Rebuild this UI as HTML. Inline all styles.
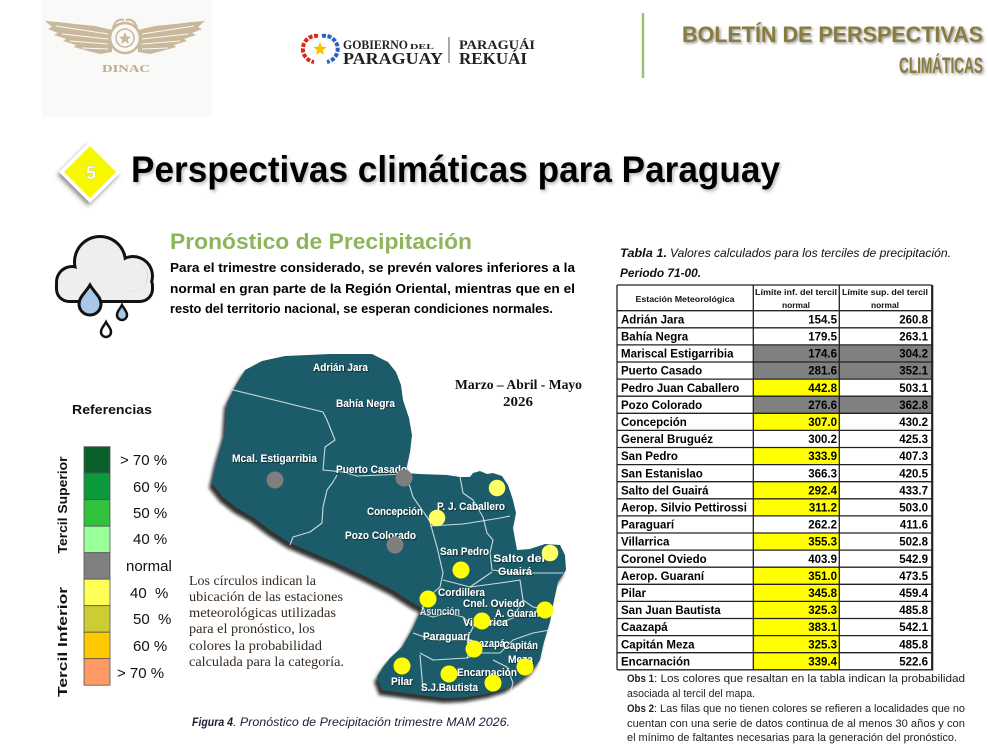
<!DOCTYPE html>
<html><head><meta charset="utf-8"><style>
html,body{margin:0;padding:0;background:#fff;overflow:hidden}
svg{display:block}
text{font-family:"Liberation Sans",Arial,sans-serif}
.serif{font-family:"Liberation Serif","Times New Roman",serif}
.ml{font-family:"Liberation Sans",sans-serif;font-weight:bold;font-size:11px;fill:#fff}
.tn{font-weight:bold;font-size:11.5px;fill:#000}
.num{font-weight:bold;font-size:11.5px;fill:#000;text-anchor:end}
.lg{font-size:15px;fill:#111}
.ob{font-size:11px;fill:#222}
.lt{font-size:13.5px;fill:#35291f}
</style></head><body>
<svg width="988" height="753" viewBox="0 0 988 753" xmlns="http://www.w3.org/2000/svg">
<defs>
<filter id="sh1" x="-5%" y="-30%" width="110%" height="170%"><feDropShadow dx="1.5" dy="1.5" stdDeviation="1.2" flood-color="#555" flood-opacity="0.6"/></filter>
<filter id="sh2" x="-5%" y="-30%" width="110%" height="170%"><feDropShadow dx="1.5" dy="2" stdDeviation="1.5" flood-color="#888" flood-opacity="0.6"/></filter>
<filter id="mapsh" x="-10%" y="-10%" width="120%" height="125%"><feDropShadow dx="-3" dy="5" stdDeviation="1.5" flood-color="#111" flood-opacity="0.85"/></filter>
<filter id="lbl" x="-10%" y="-30%" width="120%" height="160%"><feDropShadow dx="0.8" dy="0.8" stdDeviation="0.4" flood-color="#000" flood-opacity="0.7"/></filter>
<filter id="dsh" x="-30%" y="-30%" width="160%" height="160%"><feDropShadow dx="-2" dy="3" stdDeviation="2" flood-color="#666" flood-opacity="0.7"/></filter>
</defs>

<!-- DINAC logo -->
<rect x="42" y="0" width="170" height="117" fill="#f9f9f8"/>
<polygon points="112,30 95,26 75,24 58,22 45,21 52,27 48,29 58,33 54,35 66,39 63,41 76,45 74,47 88,51 100,54 112,52" fill="#c9b899"/>
<polygon points="138,30 155,26 175,24 192,22 205,21 198,27 202,29 192,33 196,35 184,39 187,41 174,45 176,47 162,51 150,54 138,52" fill="#c9b899"/>
<g stroke="#f9f9f8" stroke-width="1" fill="none">
<path d="M108,34 L56,26 M108,39 L62,34 M108,44 L70,41 M108,49 L82,48"/>
<path d="M142,34 L194,26 M142,39 L188,34 M142,44 L180,41 M142,49 L168,48"/>
</g>
<circle cx="125" cy="38" r="15" fill="#f9f9f8" stroke="#c9b899" stroke-width="2.5"/>
<circle cx="125" cy="38" r="9" fill="none" stroke="#c9b899" stroke-width="1.5"/>
<polygon points="125,32 126.8,36.5 131,36.7 127.7,39.5 128.8,44 125,41.4 121.2,44 122.3,39.5 119,36.7 123.2,36.5" fill="#c9b899"/>
<path d="M113,28 Q116,18 124,20 M137,28 Q134,18 126,20" stroke="#c9b899" stroke-width="2" fill="none"/>
<text x="102" y="72" class="serif" font-size="11" font-weight="bold" fill="#bcaa8a" textLength="48" lengthAdjust="spacingAndGlyphs">DINAC</text>

<!-- Gobierno logo -->
<path d="M318,36 A13,13 0 0 0 314,62" stroke="#d52b1e" stroke-width="4" fill="none" stroke-dasharray="4 1.5"/>
<path d="M322,36 A13,13 0 0 1 327,62" stroke="#2a62c4" stroke-width="4" fill="none" stroke-dasharray="4 1.5"/>
<polygon points="320,42 321.8,46.8 326.8,47 322.9,50.1 324.2,55 320,52.2 315.8,55 317.1,50.1 313.2,47 318.2,46.8" fill="#f5c400"/>
<text x="343" y="49" class="serif" font-size="12.5" font-weight="bold" fill="#222" textLength="65" lengthAdjust="spacingAndGlyphs">GOBIERNO</text>
<text x="410" y="49" class="serif" font-size="7" font-weight="bold" fill="#222" textLength="24" lengthAdjust="spacingAndGlyphs">DEL</text>
<text x="343" y="64" class="serif" font-size="17" font-weight="bold" fill="#222" textLength="100" lengthAdjust="spacingAndGlyphs">PARAGUAY</text>
<line x1="449" y1="37" x2="449" y2="63" stroke="#555" stroke-width="1"/>
<text x="459" y="49" class="serif" font-size="12.5" font-weight="bold" fill="#222" textLength="76" lengthAdjust="spacingAndGlyphs">PARAGUÁI</text>
<text x="459" y="64" class="serif" font-size="17" font-weight="bold" fill="#222" textLength="68" lengthAdjust="spacingAndGlyphs">REKUÁI</text>

<!-- Header right -->
<line x1="643" y1="13" x2="643" y2="78" stroke="#9dc26b" stroke-width="2.5"/>
<g filter="url(#sh1)">
<text x="983" y="42" text-anchor="end" font-size="22" font-weight="bold" fill="#8a7b3c" textLength="301" lengthAdjust="spacingAndGlyphs">BOLETÍN DE PERSPECTIVAS</text>
<text x="983" y="73" text-anchor="end" font-size="22" font-weight="bold" fill="#8a7b3c" textLength="84" lengthAdjust="spacingAndGlyphs">CLIMÁTICAS</text>
</g>

<!-- Title -->
<polygon points="90,141 121,172 90,203 59,172" fill="#fff" filter="url(#dsh)"/>
<polygon points="90,146 116,172 90,198 64,172" fill="#f7f700"/>
<text x="91" y="179" text-anchor="middle" font-size="18" font-weight="bold" fill="#fff" stroke="#bbb" stroke-width="0.4">5</text>
<text x="131" y="182" font-size="37" font-weight="bold" fill="#000" textLength="649" lengthAdjust="spacingAndGlyphs" filter="url(#sh2)">Perspectivas climáticas para Paraguay</text>

<!-- Cloud icon -->
<g>
<g fill="#111">
<circle cx="72" cy="282" r="17"/><circle cx="100" cy="262" r="27"/><circle cx="133" cy="276" r="21"/>
<rect x="55" y="272" width="99" height="31" rx="14"/>
</g>
<g fill="#eeeeee">
<circle cx="72" cy="282" r="14"/><circle cx="100" cy="262" r="24"/><circle cx="133" cy="276" r="18"/>
<rect x="58" y="275" width="93" height="25" rx="11"/>
</g>
<path d="M122,292 Q146,292 148,278 Q148,266 136,261 Q150,268 146,282 Q142,293 122,292 Z" fill="#d6d6d6"/>
<path d="M90,285 C94,292 101,297 101,304 A11,11 0 0 1 79,304 C79,297 86,292 90,285 Z" fill="#a8c8e8" stroke="#111" stroke-width="3"/>
<path d="M122,305 C124,309 127,311 127,315 A5,5 0 0 1 117,315 C117,311 120,309 122,305 Z" fill="#a8c8e8" stroke="#111" stroke-width="2.5"/>
<path d="M106,322 C108,326 111,328 111,332 A5,5 0 0 1 101,332 C101,328 104,326 106,322 Z" fill="#fff" stroke="#111" stroke-width="2.5"/>
</g>

<!-- Pronóstico -->
<text x="170" y="249" font-size="22" font-weight="bold" fill="#8db55a" textLength="302" lengthAdjust="spacingAndGlyphs">Pronóstico de Precipitación</text>
<g font-size="12.5" font-weight="bold" fill="#000">
<text x="170" y="272" textLength="405" lengthAdjust="spacingAndGlyphs">Para el trimestre considerado, se prevén valores inferiores a la</text>
<text x="170" y="293" textLength="405" lengthAdjust="spacingAndGlyphs">normal en gran parte de la Región Oriental, mientras que en el</text>
<text x="170" y="313" textLength="383" lengthAdjust="spacingAndGlyphs">resto del territorio nacional, se esperan condiciones normales.</text>
</g>

<!-- Legend -->
<text x="112" y="414" text-anchor="middle" font-size="12.5" font-weight="bold" fill="#111" textLength="80" lengthAdjust="spacingAndGlyphs">Referencias</text>
<g stroke="#555" stroke-width="0.8">
<rect x="84" y="446.7" width="26" height="26.5" fill="#0b5f2b"/>
<rect x="84" y="473.2" width="26" height="26.5" fill="#0a9a3c"/>
<rect x="84" y="499.7" width="26" height="26.5" fill="#30c23a"/>
<rect x="84" y="526.2" width="26" height="26.5" fill="#99ff99"/>
<rect x="84" y="552.7" width="26" height="26.5" fill="#808080"/>
<rect x="84" y="579.2" width="26" height="26.5" fill="#ffff55"/>
<rect x="84" y="605.7" width="26" height="26.5" fill="#cccc33"/>
<rect x="84" y="632.2" width="26" height="26.5" fill="#ffc800"/>
<rect x="84" y="658.7" width="26" height="26.5" fill="#ff9966"/>
</g>
<text class="lg" x="120" y="465">&gt; 70 %</text>
<text class="lg" x="133" y="492">60 %</text>
<text class="lg" x="133" y="518">50 %</text>
<text class="lg" x="133" y="544">40 %</text>
<text class="lg" x="126" y="571">normal</text>
<text class="lg" x="130" y="598" xml:space="preserve">40  %</text>
<text class="lg" x="133" y="624" xml:space="preserve">50  %</text>
<text class="lg" x="133" y="651">60 %</text>
<text class="lg" x="117" y="678">&gt; 70 %</text>
<text transform="translate(67,505) rotate(-90)" text-anchor="middle" font-size="13" font-weight="bold" fill="#111" textLength="97" lengthAdjust="spacingAndGlyphs">Tercil Superior</text>
<text transform="translate(67,642) rotate(-90)" text-anchor="middle" font-size="13" font-weight="bold" fill="#111" textLength="110" lengthAdjust="spacingAndGlyphs">Tercil Inferior</text>

<!-- Map -->
<polygon filter="url(#mapsh)" fill="#1f5c6a" points="245,370 262,361 285,356 330,354 372,354 388,362 396,372 401,385 403,400 409,418 412,435 410,452 407,466 405,473 420,474 447,475 460,477 470,477 473,473 480,471 487,474 493,473 502,476 508,485 513,500 516,513 513,528 517,550 530,549 545,544 560,545 565,555 566,570 558,582 553,605 550,622 544,642 540,660 533,670 520,680 507,688 490,693 467,697 447,698 420,695 397,692 382,690 377,677 383,667 390,658 402,647 413,628 418,617 422,608 413,603 393,590 367,577 337,563 313,553 290,543 270,530 253,517 237,508 223,497 212,483 217,460 225,433 227,403 236,385"/>
<g fill="none" stroke="#e8f0f2" stroke-width="1.1" stroke-opacity="0.85" stroke-linejoin="round">
<polyline points="229,389 323,412 327,420 335,440 325,447 323,470 343,472 357,476 405,474"/>
<polyline points="337,475 333,482 327,490 323,507 322,523 310,532 293,537 290,545"/>
<polyline points="405,474 410,487 413,497 427,517 430,522 433,533 437,547 440,560 443,573 440,587 433,593 422,608"/>
<polyline points="430,526 463,524 482,521 500,518 510,516"/>
<polyline points="460,477 463,493 473,500 483,517 487,533 493,540 490,553 492,570 517,573 563,573"/>
<polyline points="443,580 470,587 492,572"/>
<polyline points="470,587 500,583 520,580 523,600 533,607 553,610"/>
<polyline points="420,613 433,617 447,613 463,617 473,627 500,623 513,618 523,600"/>
<polyline points="413,633 433,640 467,640 473,627"/>
<polyline points="420,653 433,660 467,658 480,653 500,653 513,640 533,633 550,630"/>
<polyline points="493,660 507,667 513,683 510,693"/>
<polyline points="420,655 423,690"/>
<polyline points="467,640 470,650 467,658"/>
</g>
<g filter="url(#lbl)">
<text class="ml" x="313" y="371" textLength="55" lengthAdjust="spacingAndGlyphs">Adrián Jara</text>
<text class="ml" x="336" y="407" textLength="59" lengthAdjust="spacingAndGlyphs">Bahía Negra</text>
<text class="ml" x="232" y="462" textLength="85" lengthAdjust="spacingAndGlyphs">Mcal. Estigarribia</text>
<text class="ml" x="336" y="473" textLength="71" lengthAdjust="spacingAndGlyphs">Puerto Casado</text>
<text class="ml" x="367" y="515" textLength="56" lengthAdjust="spacingAndGlyphs">Concepción</text>
<text class="ml" x="437" y="510" textLength="68" lengthAdjust="spacingAndGlyphs">P. J. Caballero</text>
<text class="ml" x="345" y="539" textLength="71" lengthAdjust="spacingAndGlyphs">Pozo Colorado</text>
<text class="ml" x="440" y="555" textLength="49" lengthAdjust="spacingAndGlyphs">San Pedro</text>
<text class="ml" x="493" y="562" textLength="52" lengthAdjust="spacingAndGlyphs">Salto del</text>
<text class="ml" x="498" y="575" textLength="34" lengthAdjust="spacingAndGlyphs">Guairá</text>
<text class="ml" x="438" y="596" textLength="47" lengthAdjust="spacingAndGlyphs">Cordillera</text>
<text class="ml" x="463" y="607" textLength="62" lengthAdjust="spacingAndGlyphs">Cnel. Oviedo</text>
<text class="ml" x="420" y="615" font-size="9" fill-opacity="0.8" textLength="40" lengthAdjust="spacingAndGlyphs">Asunción</text>
<text class="ml" x="495" y="617" textLength="47" lengthAdjust="spacingAndGlyphs">A. Guaraní</text>
<text class="ml" x="463" y="626" textLength="45" lengthAdjust="spacingAndGlyphs">Villarrica</text>
<text class="ml" x="423" y="640" textLength="47" lengthAdjust="spacingAndGlyphs">Paraguarí</text>
<text class="ml" x="467" y="647" textLength="38" lengthAdjust="spacingAndGlyphs">Caazapá</text>
<text class="ml" x="503" y="649" textLength="35" lengthAdjust="spacingAndGlyphs">Capitán</text>
<text class="ml" x="508" y="663" textLength="25" lengthAdjust="spacingAndGlyphs">Meza</text>
<text class="ml" x="457" y="676" textLength="60" lengthAdjust="spacingAndGlyphs">Encarnación</text>
<text class="ml" x="391" y="685" textLength="22" lengthAdjust="spacingAndGlyphs">Pilar</text>
<text class="ml" x="421" y="691" textLength="57" lengthAdjust="spacingAndGlyphs">S.J.Bautista</text>
</g>
<g fill="#7f7f7f">
<circle cx="275" cy="480" r="8.5"/><circle cx="404" cy="478" r="8.5"/><circle cx="395" cy="545" r="8.5"/>
</g>
<g fill="#ffff66">
<circle cx="497" cy="488" r="8.3"/><circle cx="437" cy="518" r="8.3"/><circle cx="550" cy="553" r="8.3"/>
</g>
<g fill="#ffff00">
<circle cx="461" cy="570" r="8.5"/><circle cx="428" cy="599" r="8.5"/><circle cx="545" cy="610" r="8.5"/>
<circle cx="482" cy="621" r="8.5"/><circle cx="474" cy="649" r="8.5"/><circle cx="402" cy="666" r="8.5"/>
<circle cx="449" cy="674" r="8.5"/><circle cx="493" cy="683" r="8.5"/><circle cx="525" cy="667" r="8.5"/>
</g>
<text x="455" y="389" class="serif" font-size="13.5" font-weight="bold" fill="#111" textLength="127" lengthAdjust="spacingAndGlyphs">Marzo – Abril - Mayo</text>
<text x="518" y="406" class="serif" text-anchor="middle" font-size="13.5" font-weight="bold" fill="#111" textLength="30" lengthAdjust="spacingAndGlyphs">2026</text>

<!-- Left explanatory text -->
<g class="serif">
<text class="lt serif" x="189" y="585" textLength="127" lengthAdjust="spacingAndGlyphs">Los círculos indican la</text>
<text class="lt serif" x="189" y="601" textLength="154" lengthAdjust="spacingAndGlyphs">ubicación de las estaciones</text>
<text class="lt serif" x="189" y="617" textLength="147" lengthAdjust="spacingAndGlyphs">meteorológicas utilizadas</text>
<text class="lt serif" x="189" y="633" textLength="126" lengthAdjust="spacingAndGlyphs">para el pronóstico, los</text>
<text class="lt serif" x="189" y="650" textLength="133" lengthAdjust="spacingAndGlyphs">colores la probabilidad</text>
<text class="lt serif" x="189" y="666" textLength="155" lengthAdjust="spacingAndGlyphs">calculada para la categoría.</text>
</g>

<!-- Figure caption -->
<text x="192" y="726" font-size="11.5" font-weight="bold" font-style="italic" fill="#1c1c3a" textLength="41" lengthAdjust="spacingAndGlyphs">Figura 4</text>
<text x="233" y="726" font-size="11.5" font-style="italic" fill="#1c1c3a" textLength="277" lengthAdjust="spacingAndGlyphs">. Pronóstico de Precipitación trimestre MAM 2026.</text>

<!-- Table caption -->
<text x="620" y="257" font-size="12" font-weight="bold" font-style="italic" fill="#111" textLength="47" lengthAdjust="spacingAndGlyphs">Tabla 1.</text>
<text x="670" y="257" font-size="12" font-style="italic" fill="#111" textLength="281" lengthAdjust="spacingAndGlyphs">Valores calculados para los terciles de precipitación.</text>
<text x="620" y="277" font-size="12" font-weight="bold" font-style="italic" fill="#111" textLength="81" lengthAdjust="spacingAndGlyphs">Periodo 71-00.</text>

<!-- Table -->
<g>
<rect x="617" y="285" width="314.7" height="384.8" fill="#fff"/>
<rect x="753.3" y="344.9" width="178.4" height="34.2" fill="#808080"/>
<rect x="753.3" y="396.2" width="178.4" height="17.1" fill="#808080"/>
<g fill="#ffff00">
<rect x="753.3" y="379.1" width="86" height="17.1"/>
<rect x="753.3" y="413.3" width="86" height="17.1"/>
<rect x="753.3" y="447.5" width="86" height="17.1"/>
<rect x="753.3" y="481.7" width="86" height="34.2"/>
<rect x="753.3" y="533.0" width="86" height="17.1"/>
<rect x="753.3" y="567.2" width="86" height="102.6"/>
</g>
<g stroke="#222" stroke-width="1.3">
<line x1="617" y1="285" x2="931.7" y2="285"/>
<line x1="617" y1="310.7" x2="931.7" y2="310.7"/>
<line x1="617" y1="327.8" x2="931.7" y2="327.8"/>
<line x1="617" y1="344.9" x2="931.7" y2="344.9"/>
<line x1="617" y1="362.0" x2="931.7" y2="362.0"/>
<line x1="617" y1="379.1" x2="931.7" y2="379.1"/>
<line x1="617" y1="396.2" x2="931.7" y2="396.2"/>
<line x1="617" y1="413.3" x2="931.7" y2="413.3"/>
<line x1="617" y1="430.4" x2="931.7" y2="430.4"/>
<line x1="617" y1="447.5" x2="931.7" y2="447.5"/>
<line x1="617" y1="464.6" x2="931.7" y2="464.6"/>
<line x1="617" y1="481.7" x2="931.7" y2="481.7"/>
<line x1="617" y1="498.8" x2="931.7" y2="498.8"/>
<line x1="617" y1="515.9" x2="931.7" y2="515.9"/>
<line x1="617" y1="533.0" x2="931.7" y2="533.0"/>
<line x1="617" y1="550.1" x2="931.7" y2="550.1"/>
<line x1="617" y1="567.2" x2="931.7" y2="567.2"/>
<line x1="617" y1="584.3" x2="931.7" y2="584.3"/>
<line x1="617" y1="601.4" x2="931.7" y2="601.4"/>
<line x1="617" y1="618.5" x2="931.7" y2="618.5"/>
<line x1="617" y1="635.6" x2="931.7" y2="635.6"/>
<line x1="617" y1="652.7" x2="931.7" y2="652.7"/>
<line x1="617" y1="669.8" x2="931.7" y2="669.8"/>
<line x1="617" y1="285" x2="617" y2="669.8"/>
<line x1="753.3" y1="285" x2="753.3" y2="669.8"/>
<line x1="839.3" y1="285" x2="839.3" y2="669.8"/>
</g>
<line x1="932.2" y1="285" x2="932.2" y2="670.5" stroke="#222" stroke-width="2.2"/>
<text x="685" y="302" text-anchor="middle" font-size="8" font-weight="bold" fill="#111" textLength="99" lengthAdjust="spacingAndGlyphs">Estación Meteorológica</text>
<text x="796" y="295" text-anchor="middle" font-size="8" font-weight="bold" fill="#111" textLength="82" lengthAdjust="spacingAndGlyphs">Límite inf. del tercil</text>
<text x="796" y="308" text-anchor="middle" font-size="8" font-weight="bold" fill="#111" textLength="28" lengthAdjust="spacingAndGlyphs">normal</text>
<text x="885" y="295" text-anchor="middle" font-size="8" font-weight="bold" fill="#111" textLength="86" lengthAdjust="spacingAndGlyphs">Límite sup. del tercil</text>
<text x="885" y="308" text-anchor="middle" font-size="8" font-weight="bold" fill="#111" textLength="28" lengthAdjust="spacingAndGlyphs">normal</text>
<text class="tn" x="621" y="323.4">Adrián Jara</text><text class="num" x="837" y="323.4">154.5</text><text class="num" x="928" y="323.4">260.8</text>
<text class="tn" x="621" y="340.5">Bahía Negra</text><text class="num" x="837" y="340.5">179.5</text><text class="num" x="928" y="340.5">263.1</text>
<text class="tn" x="621" y="357.6">Mariscal Estigarribia</text><text class="num" x="837" y="357.6">174.6</text><text class="num" x="928" y="357.6">304.2</text>
<text class="tn" x="621" y="374.7">Puerto Casado</text><text class="num" x="837" y="374.7">281.6</text><text class="num" x="928" y="374.7">352.1</text>
<text class="tn" x="621" y="391.8">Pedro Juan Caballero</text><text class="num" x="837" y="391.8">442.8</text><text class="num" x="928" y="391.8">503.1</text>
<text class="tn" x="621" y="408.9">Pozo Colorado</text><text class="num" x="837" y="408.9">276.6</text><text class="num" x="928" y="408.9">362.8</text>
<text class="tn" x="621" y="426.0">Concepción</text><text class="num" x="837" y="426.0">307.0</text><text class="num" x="928" y="426.0">430.2</text>
<text class="tn" x="621" y="443.1">General Bruguéz</text><text class="num" x="837" y="443.1">300.2</text><text class="num" x="928" y="443.1">425.3</text>
<text class="tn" x="621" y="460.2">San Pedro</text><text class="num" x="837" y="460.2">333.9</text><text class="num" x="928" y="460.2">407.3</text>
<text class="tn" x="621" y="477.3">San Estanislao</text><text class="num" x="837" y="477.3">366.3</text><text class="num" x="928" y="477.3">420.5</text>
<text class="tn" x="621" y="494.4">Salto del Guairá</text><text class="num" x="837" y="494.4">292.4</text><text class="num" x="928" y="494.4">433.7</text>
<text class="tn" x="621" y="511.5">Aerop. Silvio Pettirossi</text><text class="num" x="837" y="511.5">311.2</text><text class="num" x="928" y="511.5">503.0</text>
<text class="tn" x="621" y="528.6">Paraguarí</text><text class="num" x="837" y="528.6">262.2</text><text class="num" x="928" y="528.6">411.6</text>
<text class="tn" x="621" y="545.7">Villarrica</text><text class="num" x="837" y="545.7">355.3</text><text class="num" x="928" y="545.7">502.8</text>
<text class="tn" x="621" y="562.8">Coronel Oviedo</text><text class="num" x="837" y="562.8">403.9</text><text class="num" x="928" y="562.8">542.9</text>
<text class="tn" x="621" y="579.9">Aerop. Guaraní</text><text class="num" x="837" y="579.9">351.0</text><text class="num" x="928" y="579.9">473.5</text>
<text class="tn" x="621" y="597.0">Pilar</text><text class="num" x="837" y="597.0">345.8</text><text class="num" x="928" y="597.0">459.4</text>
<text class="tn" x="621" y="614.1">San Juan Bautista</text><text class="num" x="837" y="614.1">325.3</text><text class="num" x="928" y="614.1">485.8</text>
<text class="tn" x="621" y="631.2">Caazapá</text><text class="num" x="837" y="631.2">383.1</text><text class="num" x="928" y="631.2">542.1</text>
<text class="tn" x="621" y="648.3">Capitán Meza</text><text class="num" x="837" y="648.3">325.3</text><text class="num" x="928" y="648.3">485.8</text>
<text class="tn" x="621" y="665.4">Encarnación</text><text class="num" x="837" y="665.4">339.4</text><text class="num" x="928" y="665.4">522.6</text>
</g>

<!-- Obs -->
<text class="ob" x="627" y="682" font-weight="bold" textLength="27" lengthAdjust="spacingAndGlyphs">Obs 1</text>
<text class="ob" x="654" y="682" textLength="311" lengthAdjust="spacingAndGlyphs">: Los colores que resaltan en la tabla indican la probabilidad</text>
<text class="ob" x="627" y="697" textLength="128" lengthAdjust="spacingAndGlyphs">asociada al tercil del mapa.</text>
<text class="ob" x="627" y="712" font-weight="bold" textLength="27" lengthAdjust="spacingAndGlyphs">Obs 2</text>
<text class="ob" x="654" y="712" textLength="311" lengthAdjust="spacingAndGlyphs">: Las filas que no tienen colores se refieren a localidades que no</text>
<text class="ob" x="627" y="727" textLength="338" lengthAdjust="spacingAndGlyphs">cuentan con una serie de datos continua de al menos 30 años y con</text>
<text class="ob" x="627" y="741" textLength="330" lengthAdjust="spacingAndGlyphs">el mínimo de faltantes necesarias para la generación del pronóstico.</text>
</svg>
</body></html>
